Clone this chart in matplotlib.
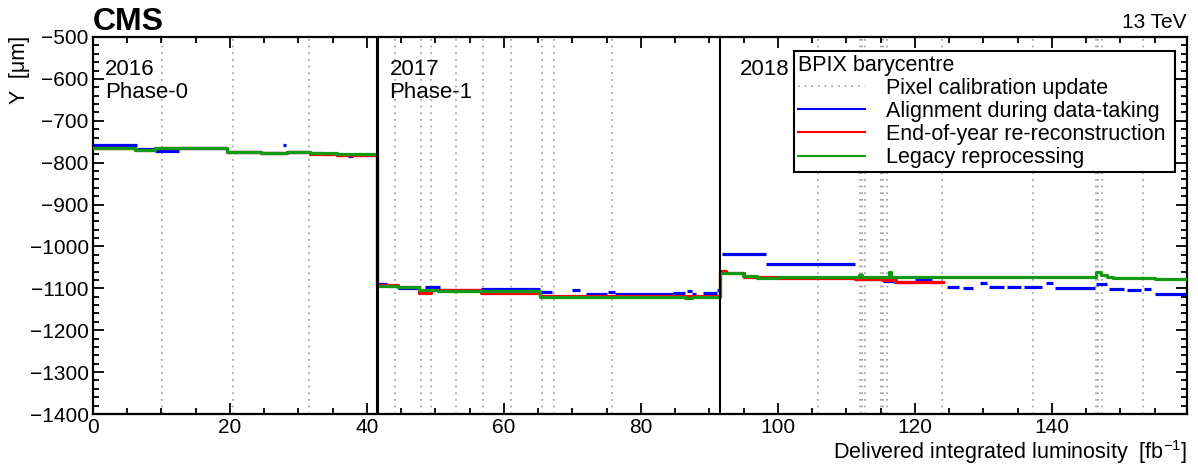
import numpy as np
import matplotlib
matplotlib.use('Agg')
import matplotlib.pyplot as plt
from matplotlib.lines import Line2D
from matplotlib.ticker import MultipleLocator

plt.rcParams['font.family'] = ['Liberation Sans', 'DejaVu Sans']
plt.rcParams['mathtext.fontset'] = 'custom'
plt.rcParams['mathtext.rm'] = 'Liberation Sans'
plt.rcParams['mathtext.it'] = 'Liberation Sans'

# year boundaries and pixel calibration updates (fb^-1)
year_bounds = [41.5, 91.5]
year_lw = [2.2, 1.5]
years = ['2016', '2017', '2018']
phases = ['Phase-0', 'Phase-1', '']
year_text_x = [1.7, 43.3, 94.4]
calib_updates = [10.1, 20.4, 31.5,
                 44.1, 47.9, 49.4, 53.0, 57.0, 61.1, 65.6, 67.3, 75.8,
                 105.8, 112.0, 112.3, 112.7, 115.0, 115.3, 115.9, 124.0,
                 137.3, 146.5, 146.8, 147.3, 153.3]

# legacy reprocessing (green), steps: edges + values
green_edges = [0, 6.1, 9.0, 19.5, 24.6, 28.3, 31.7, 35.6,
               41.5, 44.5, 47.6, 50.4, 56.7, 65.3, 86.5, 87.5,
               91.5, 94.9, 96.9, 100, 111.8, 112.3, 116.3, 116.5,
               146.5, 147.2, 148.0, 149.0, 155.0, 159.7]
green_vals = [-765, -769, -766, -774, -777, -774, -778, -780,
              -1094, -1098, -1104, -1106, -1107, -1120, -1122, -1120,
              -1064, -1070, -1075, -1072, -1067, -1072, -1060, -1072,
              -1062, -1067, -1072, -1076, -1078]

# end-of-year re-reconstruction (red)
red_edges = [0, 6.1, 9.0, 19.5, 24.6, 28.3, 31.7, 35.6,
             41.5, 44.5, 47.6, 49.4, 50.4, 56.7, 65.3,
             91.5, 92.5, 95.0, 100, 111.3, 115.3, 117.3, 124.1]
red_vals = [-765, -770, -766, -775, -778, -775, -779, -781,
            -1093, -1097, -1110, -1104, -1103, -1111, -1118,
            -1059, -1064, -1074, -1075, -1078, -1081, -1086]

# alignment during data-taking (blue), segments start / end / value
blue_x0 = [0, 6.4, 9.0, 12.5, 19.5, 24.6, 27.8, 28.3, 31.7, 34.0, 35.5, 37.2, 38.5, 39.8,
           41.3, 42.9, 44.5, 48.5, 50.7, 56.7, 65.3, 69.9, 72.0, 75.2, 76.2, 84.7, 86.7, 87.4, 89.1, 91.1,
           91.8, 98.2, 111.3, 115.3, 117.0, 120.0, 122.5, 124.7, 127.0, 129.5, 130.8, 133.5, 136.0,
           139.2, 140.5, 146.5, 148.3, 151.0, 153.5, 155.0]
blue_x1 = [6.4, 9.0, 12.5, 19.4, 24.5, 27.6, 28.2, 31.5, 33.5, 35.0, 36.5, 38.0, 39.3, 41.5,
           42.9, 44.5, 47.4, 50.7, 56.7, 65.3, 67.0, 71.1, 75.0, 76.2, 84.7, 86.5, 87.4, 88.0, 91.1, 91.5,
           98.2, 111.3, 115.0, 117.0, 120.0, 122.5, 124.1, 126.5, 128.5, 130.5, 133.0, 135.5, 138.5,
           140.2, 146.3, 148.0, 150.5, 153.0, 154.5, 159.7]
blue_y = [-759, -768, -771, -765, -775, -777, -757, -775, -778, -779, -782, -783, -782, -781,
          -1090, -1094, -1100, -1097, -1105, -1102, -1109, -1105, -1114, -1109, -1113, -1111, -1107, -1113, -1112, -1104,
          -1018, -1043, -1078, -1083, -1086, -1080, -1086, -1097, -1099, -1088, -1097, -1096, -1098,
          -1088, -1100, -1090, -1101, -1104, -1101, -1114]

fig = plt.figure(figsize=(11.98, 4.71), dpi=100)
ax = fig.add_axes([93 / 1198, 1 - 414 / 471, (1186.7 - 93) / 1198, (414 - 37) / 471])

for xc in calib_updates:
    ax.axvline(xc, color='#9a9a9a', lw=1.2, dashes=(1, 3), zorder=1)
for xb, lw in zip(year_bounds, year_lw):
    ax.axvline(xb, color='black', lw=lw, zorder=5)

ax.hlines(blue_y, blue_x0, blue_x1, color='#0000ff', lw=2.3, zorder=2)
ax.plot(red_edges, red_vals + [red_vals[-1]], drawstyle='steps-post', color='#ff0000', lw=2.3, zorder=3)
ax.plot(green_edges, green_vals + [green_vals[-1]], drawstyle='steps-post', color='#139913', lw=2.3, zorder=4)

ax.set_xlim(0, 159.7)
ax.set_ylim(-1400, -500)
ax.xaxis.set_major_locator(MultipleLocator(20))
ax.xaxis.set_minor_locator(MultipleLocator(5))
ax.yaxis.set_major_locator(MultipleLocator(100))
ax.yaxis.set_minor_locator(MultipleLocator(20))
ax.tick_params(which='both', direction='in', top=True, right=True, width=1.3, labelsize=15)
ax.tick_params(which='major', length=8)
ax.tick_params(which='minor', length=4)
ax.tick_params(axis='x', pad=3)
ax.tick_params(axis='y', pad=3)
for s in ax.spines.values():
    s.set_linewidth(1.6)

for xt, yr, ph in zip(year_text_x, years, phases):
    ax.text(xt, -591, yr, fontsize=16, va='baseline', ha='left', zorder=6)
    if ph:
        ax.text(xt, -645, ph, fontsize=16, va='baseline', ha='left', zorder=6)

handles = [Line2D([], [], color='#9a9a9a', lw=1.2, dashes=(1, 3)),
           Line2D([], [], color='#0000ff', lw=1.5),
           Line2D([], [], color='#ff0000', lw=1.5),
           Line2D([], [], color='#139913', lw=1.5)]
labels = ['Pixel calibration update', 'Alignment during data-taking',
          'End-of-year re-reconstruction', 'Legacy reprocessing']
leg = ax.legend(handles, labels, title='BPIX barycentre', loc='upper left',
                bbox_to_anchor=(0.641, 0.9637, 0.348, 0.0), mode='expand',
                fontsize=15.5, title_fontsize=15.5, frameon=True, fancybox=False,
                edgecolor='black', framealpha=1, borderpad=0.18, labelspacing=0.1,
                handlelength=3.1, handletextpad=1.0, borderaxespad=0, alignment='left')
leg.get_frame().set_linewidth(1.5)
leg.set_zorder(10)

fig.text(93 / 1198, 1 - 30 / 471, 'CMS', fontsize=23, fontweight='bold', ha='left', va='baseline')
fig.text(1186.7 / 1198, 1 - 28.5 / 471, '13 TeV', fontsize=15, ha='right', va='baseline')
fig.text(20 / 1198, 1 - 36 / 471, 'Y  [μm]', fontsize=15.5, rotation=90, ha='center', va='top')
fig.text(1187 / 1198, 1 - 459 / 471, 'Delivered integrated luminosity  [fb$^{-1}$]',
         fontsize=15.5, ha='right', va='baseline')

fig.savefig('out.png', dpi=100)
